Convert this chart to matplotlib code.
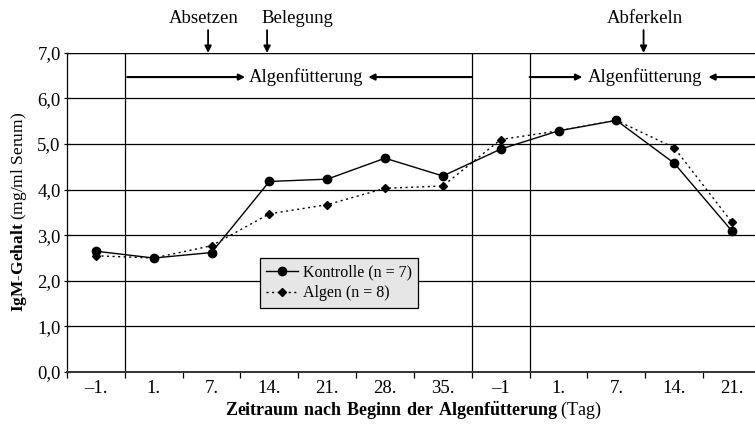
import numpy as np
import matplotlib
matplotlib.use("Agg")
import matplotlib.pyplot as plt

plt.rcParams["font.family"] = "Liberation Serif"
plt.rcParams["mathtext.fontset"] = "custom"
plt.rcParams["mathtext.rm"] = "Liberation Serif"
plt.rcParams["mathtext.bf"] = "Liberation Serif:bold"

# data
tage = ["\u20131.", "1.", "7.", "14.", "21.", "28.", "35.", "\u20131", "1.", "7.", "14.", "21."]
kontrolle = [2.65, 2.50, 2.62, 4.18, 4.23, 4.69, 4.30, 4.89, 5.29, 5.52, 4.58, 3.09]
algen = [2.55, 2.50, 2.77, 3.47, 3.67, 4.03, 4.08, 5.10, 5.29, 5.52, 4.92, 3.28]
yticks = [0, 1, 2, 3, 4, 5, 6, 7]

x = np.arange(len(tage))

fig = plt.figure(figsize=(7.55, 4.26), dpi=100)
ax = fig.add_axes([0.0887, 0.1268, 0.9192, 0.749])

ax.set_xlim(-0.5, len(tage) - 0.5)
ax.set_ylim(0, 7)

# horizontal grid
for yv in yticks[1:]:
    ax.axhline(yv, color="black", lw=0.9, zorder=1)
ax.axhline(7, color="black", lw=1.6, zorder=1)
# phase separators
for xv in [0.5, 6.5, 7.5]:
    ax.axvline(xv, color="black", lw=0.9, zorder=1)

ax.plot(x, kontrolle, color="black", lw=1.0, marker="o", ms=6,
        label="Kontrolle (n = 7)", zorder=3)
ax.plot(x, algen, color="black", lw=1.0, ls=(0, (1.5, 2.5)), marker="D", ms=4,
        label="Algen (n = 8)", zorder=3)

ax.set_xticks(x)
ax.set_xticklabels(tage, fontsize=13.5)
ax.set_xticks(np.arange(-0.5, len(tage), 1), minor=True)
ax.tick_params(axis="x", which="major", length=0, pad=6)
ax.tick_params(axis="x", which="minor", length=4, direction="out", width=0.9)
ax.set_yticks(yticks)
ax.set_yticklabels([f"{v},0" for v in yticks], fontsize=13.5)
ax.tick_params(axis="y", length=5, direction="inout", width=0.9, pad=2)

for s in ["top", "right"]:
    ax.spines[s].set_visible(False)
ax.spines["left"].set_linewidth(0.9)
ax.spines["bottom"].set_linewidth(1.4)
ax.spines["bottom"].set_color("#333333")

ax.set_xlabel(r"$\bf{Zeitraum\ nach\ Beginn\ der\ Algenf\"utterung}$ (Tag)",
              fontsize=13, labelpad=2)
ax.set_ylabel(r"$\bf{IgM}$-$\bf{Gehalt}$ (mg/ml Serum)", fontsize=12.5, labelpad=6)

# event arrows above the plot: (name, arrow position, text position)
events = [("Absetzen", 1.94, 1.87), ("Belegung", 2.96, 3.48), ("Abferkeln", 9.47, 9.5)]
for name, pos, tpos in events:
    ax.annotate("", xy=(pos, 7.0), xytext=(pos, 7.5),
                arrowprops=dict(arrowstyle="-|>", color="black", lw=1.3,
                                mutation_scale=10, shrinkA=0, shrinkB=0),
                annotation_clip=False)
    ax.text(tpos, 7.75, name, ha="center", va="center", fontsize=13.5)

# feeding period markers
ya = 6.47
def feed(x0, head_l, xt, head_r, x1):
    ax.annotate("", xy=(head_l, ya), xytext=(x0, ya),
                arrowprops=dict(arrowstyle="-|>", color="black", lw=1.5,
                                mutation_scale=9, shrinkA=0, shrinkB=0))
    ax.annotate("", xy=(head_r, ya), xytext=(x1, ya),
                arrowprops=dict(arrowstyle="-|>", color="black", lw=1.5,
                                mutation_scale=9, shrinkA=0, shrinkB=0),
                annotation_clip=False)
    ax.text(xt, ya, "Algenf\u00fctterung", ha="center", va="center", fontsize=13.5)

feed(0.54, 2.58, 3.64, 4.71, 6.5)
feed(7.5, 8.41, 9.5, 10.59, 11.5)

leg = ax.legend(loc="upper left", bbox_to_anchor=(0.278, 0.357), fontsize=11.5,
                frameon=True, fancybox=False, framealpha=1, borderpad=0.4,
                borderaxespad=0, handlelength=2.0, handletextpad=0.3,
                labelspacing=0.3)
leg.get_frame().set_facecolor("#e6e6e6")
leg.get_frame().set_edgecolor("black")
leg.get_frame().set_linewidth(0.9)

fig.savefig("out.png", dpi=100)
